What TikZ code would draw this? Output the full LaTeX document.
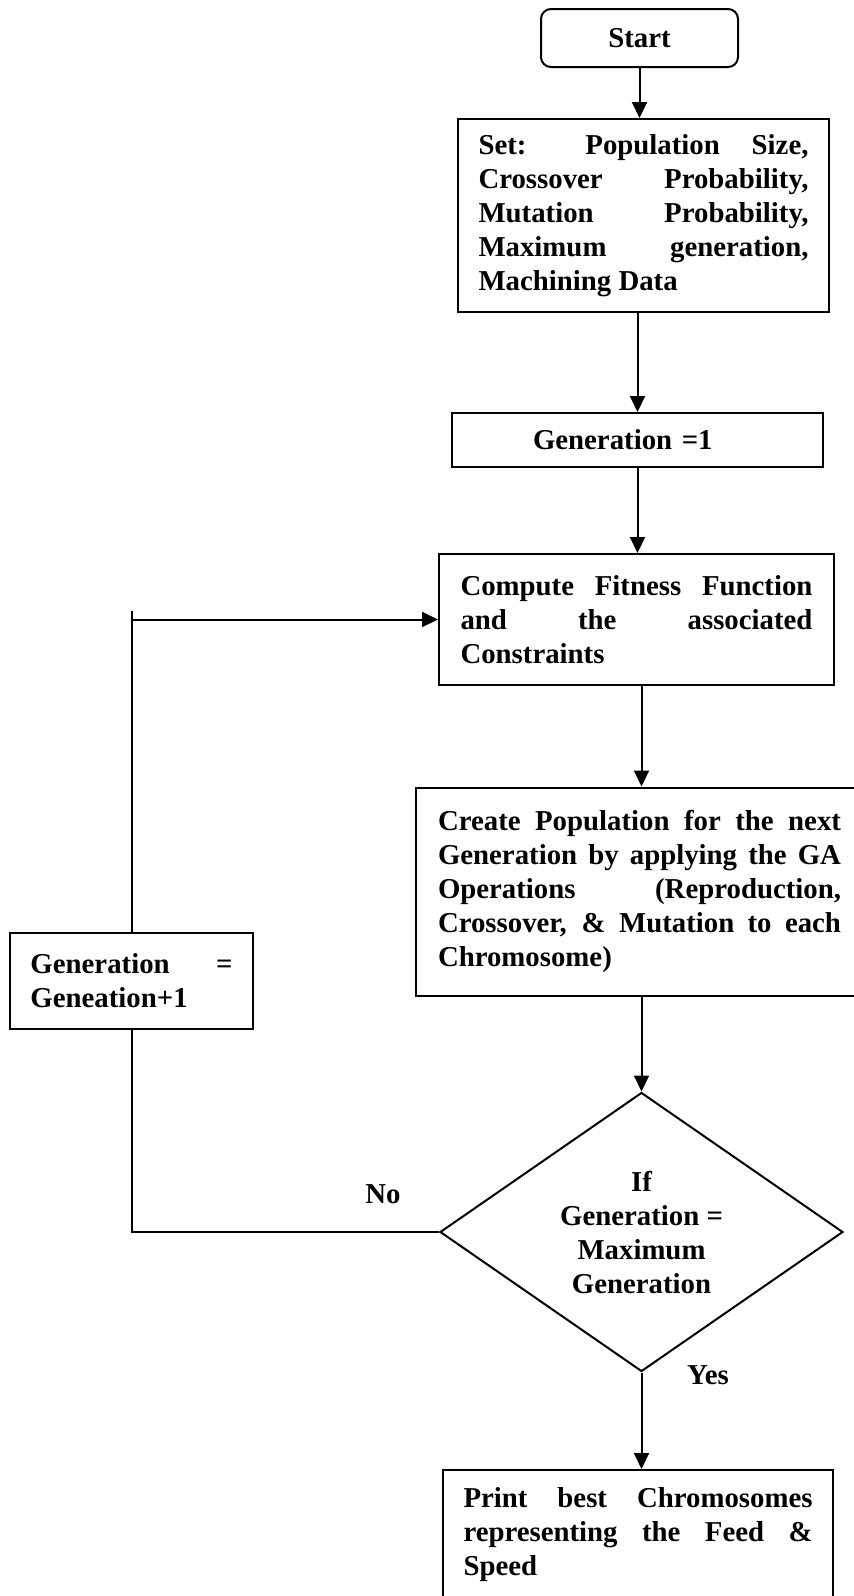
\documentclass[tikz,border=0pt]{standalone}
\usepackage{fontspec}
\setmainfont{Liberation Serif}
\usetikzlibrary{arrows.meta,calc,positioning,shapes.geometric}
\tikzset{
 chart/.style={font=\fontsize{14.4pt}{17pt}\selectfont\bfseries,line join=miter},
 terminal/.style={rectangle,draw,line width=1pt,rounded corners=5pt,align=center},
 process/.style={rectangle,draw,line width=1pt,align=justify,inner ysep=0pt},
 decision/.style={diamond,draw,line width=1pt,align=center,inner sep=0pt,aspect=1.44},
 link/.style={draw,line width=1pt},
 flow/.style={link,-{Triangle[length=8pt,width=7.5pt]}},
 note/.style={inner sep=0pt}
}

\begin{document}
\begin{tikzpicture}[chart,x=.5pt,y=-.5pt]
 \useasboundingbox (0,0) rectangle (853,1596);
 % main column
 \node[terminal,minimum width=98.5pt,minimum height=29pt] (start) at (639.5,38) {Start};
 \node[process,text width=165pt,inner xsep=10.25pt,minimum height=96.5pt] (setup) at (643.5,215.5)
  {Set: Population Size,\linebreak Crossover Probability,\linebreak Mutation Probability,\linebreak Maximum generation,\linebreak Machining Data};
 \node[process,align=left,text width=104.5pt,inner xsep=40.5pt,minimum height=27pt] (genone) at (637.5,440) {Generation =1};
 \node[process,text width=176pt,inner xsep=10.75pt,minimum height=65.5pt] (fitness) at (636.5,619.5)
  {Compute Fitness Function\linebreak and the associated\linebreak Constraints};
 \node[process,text width=201.5pt,inner xsep=11pt,minimum height=104pt] (create) at (639.5,891.5)
  {Create Population for the next\linebreak Generation by applying the GA\linebreak Operations (Reproduction,\linebreak Crossover, \& Mutation to each\linebreak Chromosome)};
 \node[decision,minimum width=201.5pt,minimum height=139.5pt] (check) at (641.5,1232)
  {If\\Generation =\\Maximum\\Generation};
 \node[process,text width=174.5pt,inner xsep=10.25pt,minimum height=65pt] (best) at (638,1535)
  {Print best Chromosomes\linebreak representing the Feed \&\linebreak Speed};
 % loop back
 \node[process,text width=101pt,inner xsep=10.25pt,minimum height=48pt] (incr) at (131.5,981)
  {Generation =\linebreak Geneation+1};
 \node[note] (nolbl) at (383,1194) {No};
 \node[note] (yeslbl) at (708,1375) {Yes};
 \draw[flow] (start.south) -- (start.south |- setup.north);
 \draw[flow] (setup.south -| genone.north) -- (genone.north);
 \draw[flow] (genone.south) -- (genone.south |- fitness.north);
 \draw[flow] (fitness.south -| check.north) -- (create.north -| check.north);
 \draw[flow] (create.south -| check.north) -- (check.north);
 \draw[flow] (check.south) -- (check.south |- best.north);
 \draw[link] (check.west) -| (incr.south);
 \coordinate (looptop) at ($(incr.north |- fitness.west)+(0,-9)$);
 \draw[link] (incr.north) -- (looptop);
 \draw[flow] (incr.north |- fitness.west) -- (fitness.west);
\end{tikzpicture}
\end{document}
